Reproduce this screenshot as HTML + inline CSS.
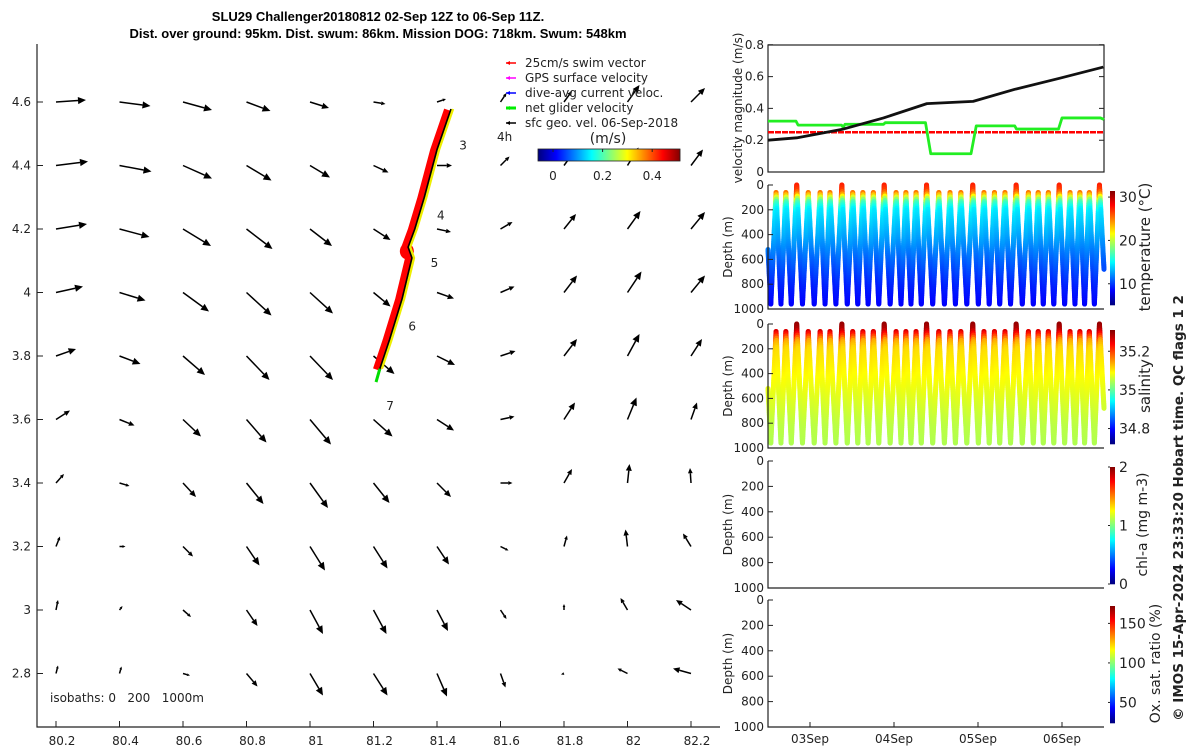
<!DOCTYPE html>
<html><head><meta charset="utf-8"><style>
html,body{margin:0;padding:0;background:#fff;}
svg{display:block;font-family:"DejaVu Sans","Liberation Sans",sans-serif;}
.t{font-size:12px;fill:#222;}
</style></head><body>
<svg id="fig" width="1200" height="750" viewBox="0 0 1200 750">
<text x="378" y="21" text-anchor="middle" font-weight="bold" font-size="13" font-family="Liberation Sans, sans-serif">SLU29 Challenger20180812 02-Sep 12Z to 06-Sep 11Z.</text>
<text x="378" y="38" text-anchor="middle" font-weight="bold" font-size="13" font-family="Liberation Sans, sans-serif">Dist. over ground: 95km. Dist. swum: 86km. Mission DOG: 718km. Swum: 548km</text>
<g id="map"></g>
<g id="vel"></g>
<g id="prof"></g>
<text transform="translate(1183,508) rotate(-90)" text-anchor="middle" font-size="13.5" font-weight="bold" fill="#222">© IMOS 15-Apr-2024 23:33:20 Hobart time. QC flags 1  2</text>
</svg>
<script>
// ---- map data ----
const lonTicks=[80.2,80.4,80.6,80.8,81,81.2,81.4,81.6,81.8,82,82.2];
const latTicks=[4.6,4.4,4.2,4,3.8,3.6,3.4,3.2,3,2.8];
const gridLon=[80.2,80.4,80.6,80.8,81.0,81.2,81.4,81.6,81.8,82.0,82.2];
const gridLat=[4.6,4.4,4.2,4.0,3.8,3.6,3.4,3.2,3.0,2.8];
const uRows=[
[30,31,29,24,19,12,9,6,8,12,14],
[32,32,29,25,20,15,15,9,11,11,12],
[31,30,28,26,22,17,14,12,12,13,14],
[27,26,26,25,23,17,17,14,13,14,14],
[20,21,22,23,23,21,18,15,13,12,11],
[14,15,18,20,21,19,17,14,11,9,6],
[8,10,13,17,18,16,14,12,8,2,-1],
[4,6,10,13,15,14,12,8,3,-2,-8],
[2,3,8,11,13,13,11,6,0,-7,-15],
[2,2,7,11,13,14,10,5,-3,-10,-18]];
const vRows=[
[2,-4,-8,-9,-6,-2,3,9,11,17,14],
[4,-6,-13,-15,-12,-7,0,9,15,18,16],
[5,-8,-17,-20,-17,-11,-3,7,15,18,17],
[6,-8,-19,-23,-21,-14,-6,6,17,21,17],
[7,-8,-19,-24,-24,-18,-9,5,17,22,17],
[9,-6,-17,-23,-25,-17,-11,3,17,22,17],
[9,-3,-14,-21,-25,-20,-14,0,14,19,15],
[10,0,-10,-19,-24,-22,-18,-4,11,17,13],
[10,4,-7,-16,-24,-24,-21,-9,6,12,10],
[8,7,-2,-13,-22,-22,-23,-14,-1,5,5]];
const trackLon=[81.444,81.40,81.36,81.33,81.309,81.321,81.29,81.25,81.22];
const trackLat=[4.578,4.45,4.30,4.20,4.143,4.109,3.98,3.85,3.76];
const dayLabels=["3","4","5","6","7"];
const dayLon=[81.47,81.40,81.38,81.31,81.24];
const dayLat=[4.45,4.23,4.08,3.88,3.63];
// ---- velocity data ----
const blackH=[0,8.2,21.5,33,45.4,58.6,70.5,83.4,95.8];
const blackV=[0.20,0.215,0.27,0.34,0.43,0.444,0.52,0.59,0.66];
const greenH=[0,8,8.6,21,21.5,22,33,33.5,45,46.5,58,59.5,70.5,71,83,84,95,96];
const greenV=[0.32,0.32,0.295,0.295,0.28,0.30,0.30,0.31,0.31,0.115,0.115,0.29,0.29,0.27,0.27,0.34,0.34,0.33];
const redH=[0,96];
const redV=[0.25,0.25];
const velTicks=[0,0.2,0.4,0.6,0.8];
// ---- profile data ----
const surfH=[2.3,5.1,8.2,11.5,14.9,17.7,21.1,24.2,27.1,30.1,33.2,36.6,39.4,42.3,45.3,48.8,52.0,55.1,58.5,61.7,64.7,67.7,70.9,74.4,77.2,80.1,83.2,86.3,89.1,91.8,94.7];
const surfD=[60,60,0,60,60,60,0,60,60,60,0,60,60,60,0,60,60,60,0,60,60,60,0,60,60,60,0,60,60,60,0];
const depthLev=[0,50,80,110,140,200,400,600,800,1000];
const tempLev=[27.5,26.5,24,20,17,14.5,12.8,11,9.2,8];
const salLev=[35.3,35.28,35.24,35.19,35.14,35.11,35.09,35.07,35.05,35.04];
const depthTicks=[0,200,400,600,800,1000];
const dateLabels=["03Sep","04Sep","05Sep","06Sep"];
const dateHours=[12,36,60,84];

const NS="http://www.w3.org/2000/svg";
function mk(tag,attrs,parent,txt){const e=document.createElementNS(NS,tag);for(const k in attrs)e.setAttribute(k,attrs[k]);if(txt!==undefined)e.textContent=txt;parent.appendChild(e);return e;}
function jet(t){t=Math.max(0,Math.min(1,t));const c=x=>Math.round(255*Math.max(0,Math.min(1,1.5-Math.abs(4*t-x))));return `rgb(${c(3)},${c(2)},${c(1)})`;}
function interp(xs,ys,x){if(x<=xs[0])return ys[0];for(let i=1;i<xs.length;i++){if(x<=xs[i]){const f=(x-xs[i-1])/(xs[i]-xs[i-1]);return ys[i-1]+f*(ys[i]-ys[i-1]);}}return ys[ys.length-1];}

// ===== MAP =====
const map=document.getElementById('map');
const mx=lon=>56+(lon-80.2)*317.5, my=lat=>102+(4.6-lat)*317.5;
let ax=mk('path',{d:'M37,44 V727 H720',fill:'none',stroke:'#222','stroke-width':1.2},map);


lonTicks.forEach(l=>{const x=mx(l);
 const tk=mk('line',{x1:x,x2:x,y1:727,y2:721,stroke:'#222'},map);
 
 
 const tl=mk('text',{x:x+6,y:745,'text-anchor':'middle',class:'t'},map,String(l));
 
 });
latTicks.forEach(l=>{const y=my(l);
 const tk=mk('line',{x1:37,x2:43,y1:y,y2:y,stroke:'#222'},map);
 
 
 const tl=mk('text',{x:31,y:y+4,'text-anchor':'end',class:'t'},map,String(l));
 
 });
function arrow(g,x1,y1,x2,y2,col,w){const dx=x2-x1,dy=y2-y1,L=Math.hypot(dx,dy);if(L<0.5)return;
 const ux=dx/L,uy=dy/L,h=Math.min(8,Math.max(3,L*0.35)),hw=h*0.45;
 const bx=x2-ux*h,by=y2-uy*h;
 const ln=mk('line',{x1:x1,y1:y1,x2:bx,y2:by,stroke:col,'stroke-width':w},g);
 
 
 const hd=mk('polygon',{points:`${x2},${y2} ${bx-uy*hw},${by+ux*hw} ${bx+uy*hw},${by-ux*hw}`,fill:col},g);
 
 }
gridLat.forEach((la,i)=>gridLon.forEach((lo,j)=>{const x=mx(lo),y=my(la);
 arrow(map,x,y,x+uRows[i][j],y-vRows[i][j],'#000',1.5);}));
// track
const tp=trackLon.map((l,i)=>mx(l)+','+my(trackLat[i])).join(' ');
const tpr=trackLon.map((l,i)=>(mx(l)-3)+','+(my(trackLat[i])+1)).join(' ');
const tpy=trackLon.map((l,i)=>(mx(l)+2)+','+my(trackLat[i])).join(' ');
let r=mk('polyline',{points:tpr,fill:'none',stroke:'#f00','stroke-width':8,'stroke-linejoin':'round'},map);


let blob=mk('ellipse',{cx:mx(81.305),cy:my(4.13),rx:7,ry:8,fill:'#f00'},map);


let yl=mk('polyline',{points:tpy,fill:'none',stroke:'#ee0','stroke-width':2.5},map);


let bl=mk('polyline',{points:tp,fill:'none',stroke:'#000','stroke-width':1.6},map);


let gr=mk('line',{x1:mx(81.22),y1:my(3.76),x2:mx(81.208),y2:my(3.718),stroke:'#0d0','stroke-width':3},map);


dayLabels.forEach((d,i)=>{const t=mk('text',{x:mx(dayLon[i]),y:my(dayLat[i]),class:'t'},map,d);
 
 });
let h4=mk('text',{x:497,y:141,class:'t'},map,'4h');


let iso=mk('text',{x:50,y:702,class:'t'},map,'isobaths: 0\u00a0\u00a0\u00a0200\u00a0\u00a0\u00a01000m');


// legend
const legText=['25cm/s swim vector','GPS surface velocity','dive-avg current veloc.','net glider velocity','sfc geo. vel. 06-Sep-2018'];
const legCol=['#f00','#f0f','#00f','#0e0','#000'];
legText.forEach((t,i)=>{const y=62+i*15;
 const ln=mk('line',{x1:506,x2:516,y1:y+1,y2:y+1,stroke:legCol[i],'stroke-width':i==3?3:1.5},map);
 
 
 const hd=mk('polygon',{points:`${506},${y+1} ${510},${y-1} ${510},${y+3}`,fill:legCol[i]},map);
 
 
 const tx=mk('text',{x:525,y:y+5,class:'t'},map,t);
 
 });
// map colorbar
const cbx=v=>553+(v)*248;
for(let i=0;i<142;i++){const v=-0.06+i*(0.57/142);
 const rc=mk('rect',{x:538+i,y:149,width:1.2,height:12,fill:jet((v+0.06)/0.57)},map);
 
 }
let cbb=mk('rect',{x:538,y:149,width:142,height:12,fill:'none',stroke:'#222','stroke-width':0.8},map);


[0,0.2,0.4].forEach(v=>{const tl=mk('text',{x:cbx(v),y:180,'text-anchor':'middle',class:'t'},map,String(v));
 
 
 const tk=mk('line',{x1:cbx(v),x2:cbx(v),y1:149,y2:152,stroke:'#222'},map);
 
 });
let cbt=mk('text',{x:608,y:143,'text-anchor':'middle','font-size':14,fill:'#222'},map,'(m/s)');



// ===== VELOCITY PANEL =====
const vel=document.getElementById('vel');
const tx=h=>768+h*3.5;
const vy=v=>172-v*159;
let vb=mk('rect',{x:768,y:45,width:336,height:127,fill:'none',stroke:'#222','stroke-width':1.2},vel);


velTicks.forEach(v=>{const y=vy(v);
 const tl=mk('text',{x:764,y:y+4,'text-anchor':'end',class:'t'},vel,String(v));
 
 
 const tk=mk('path',{d:`M768,${y}h5M1104,${y}h-5`,stroke:'#222'},vel);
 
 });
let vyl=mk('text',{transform:'translate(742,108) rotate(-90)','text-anchor':'middle',class:'t'},vel,'velocity magnitude (m/s)');


function series(H,V,col,w,name,dash){const p=H.map((h,i)=>tx(h)+','+vy(V[i])).join(' ');
 const e=mk('polyline',{points:p,fill:'none',stroke:col,'stroke-width':w,'stroke-linejoin':'round'},vel);
 if(dash)e.setAttribute('stroke-dasharray',dash);
 
 }
series(redH,redV,'#f00',2.5,'swim-speed-line','6 1');
series(greenH,greenV,'#2e2',2.8,'net-glider-speed-line');
series(blackH,blackV,'#111',2.8,'surface-geo-speed-line');

// ===== PROFILE PANELS =====
const prof=document.getElementById('prof');
const panels=[
 {top:185,name:'temperature',lev:tempLev,min:5.1,max:31.4,ticks:[10,20,30],label:'temperature (°C)',lx:1150,lfs:15,data:true},
 {top:324,name:'salinity',lev:salLev,min:34.72,max:35.31,ticks:[34.8,35,35.2],label:'salinity',lx:1150,lfs:15,data:true},
 {top:461,name:'chlorophyll',lev:null,min:0,max:2,ticks:[0,1,2],label:'chl-a (mg m-3)',lx:1147,lfs:14},
 {top:600,name:'oxygen',lev:null,min:24,max:172,ticks:[50,100,150],label:'Ox. sat. ratio (%)',lx:1160,lfs:14}];
const legs=[];
legs.push([0,520,0.8,960]);
let prevH=0.8;
surfH.forEach((h,i)=>{legs.push([prevH,960,h,surfD[i]]);
 const nb=i<surfH.length-1?(h+surfH[i+1])/2:96;
 const nd=i<surfH.length-1?960:680;
 legs.push([h,surfD[i],nb,nd]);prevH=nb;});
panels.forEach(P=>{
 const H=P.top===185?124:(P.top===324?124:127);
 const dy=d=>P.top+d*H/1000;
 const g=mk('g',{},prof);
 
 
 if(P.data){legs.forEach(L=>{const n=Math.max(2,Math.ceil(Math.abs(L[3]-L[1])/18));
  for(let k=0;k<n;k++){const f0=k/n,f1=(k+1)/n;
   const d0=L[1]+(L[3]-L[1])*f0,d1=L[1]+(L[3]-L[1])*f1;
   const val=interp(depthLev,P.lev,(d0+d1)/2);
   const s=mk('line',{x1:tx(L[0]+(L[2]-L[0])*f0),y1:dy(d0),x2:tx(L[0]+(L[2]-L[0])*f1),y2:dy(d1),stroke:jet((val-P.min)/(P.max-P.min)),'stroke-width':5,'stroke-linecap':'round'},g);
   
   }});}
 const a=mk('path',{d:`M768,${P.top} V${P.top+H} H1104`,fill:'none',stroke:'#222','stroke-width':1.2},g);
 
 
 depthTicks.forEach(d=>{const y=dy(d);
  const tl=mk('text',{x:764,y:y+4,'text-anchor':'end',class:'t'},g,String(d));
  
  
  const tk=mk('line',{x1:768,x2:773,y1:y,y2:y,stroke:'#222'},g);
  
  });
 const yl=mk('text',{transform:`translate(732,${P.top+H/2}) rotate(-90)`,'text-anchor':'middle',class:'t'},g,'Depth (m)');
 
 
 const c0=P.top+6,c1=P.top+H-4;
 for(let i=0;i<(c1-c0);i++){const rc=mk('rect',{x:1110,y:c1-i-1,width:5,height:1.3,fill:jet(i/(c1-c0))},g);
  
  }
 P.ticks.forEach(t=>{const y=c1-(t-P.min)/(P.max-P.min)*(c1-c0);
  const tl=mk('text',{x:1119,y:y+5,'font-size':14,fill:'#222'},g,String(t));
  
  
  const tk=mk('line',{x1:1108,x2:1110,y1:y,y2:y,stroke:'#222'},g);
  
  });
 const cl=mk('text',{transform:`translate(${P.lx},${P.top+H/2}) rotate(-90)`,'text-anchor':'middle','font-size':P.lfs,fill:'#222'},g,P.label);
 
 
});
dateHours.forEach((h,i)=>{const x=tx(h);
 const tk=mk('line',{x1:x,x2:x,y1:727,y2:722,stroke:'#222'},prof);
 
 
 const tl=mk('text',{x:x,y:743,'text-anchor':'middle',class:'t'},prof,dateLabels[i]);
 
 });
</script>
</body></html>
